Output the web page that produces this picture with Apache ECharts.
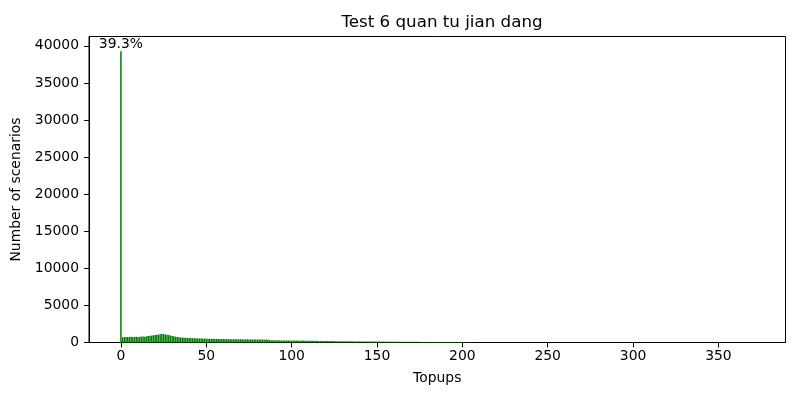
<!DOCTYPE html>
<html>
<head>
<meta charset="utf-8">
<script src="https://cdn.jsdelivr.net/npm/echarts@6/dist/echarts.min.js"></script>
<style>html,body{margin:0;padding:0;background:#fff}#c{width:800px;height:400px}</style>
</head>
<body>
<div id="c"></div>
<script>
const titleText = 'Test 6 quan tu jian dang';
const xName = 'Topups';
const yName = 'Number of scenarios';
const xTicks = [0, 50, 100, 150, 200, 250, 300, 350];
const peakLabel = '39.3%';
// counts for topups 0..370
const counts0to50 = [39276,
  700, 735, 750, 725, 745, 765, 735, 760, 775, 745,
  770, 790, 805, 780, 830, 875, 910, 930, 980, 1010,
  1035, 1070, 1100, 1130, 1150, 1080, 1035, 1000, 945, 875,
  830, 780, 750, 715, 690, 665, 655, 645, 630, 620,
  600, 585, 575, 565, 550, 540, 530, 540, 525, 520];
const counts51to100 = [
  505, 500, 495, 490, 485, 495, 475, 470, 465, 470,
  460, 455, 450, 455, 445, 435, 445, 430, 425, 435,
  425, 420, 415, 425, 410, 415, 400, 410, 395, 400,
  395, 390, 400, 385, 390, 380, 370, 320, 300, 290,
  280, 290, 275, 280, 270, 275, 265, 270, 262, 267];
const counts101to150 = [
  260, 255, 265, 250, 248, 253, 245, 242, 248, 236,
  230, 236, 228, 224, 230, 218, 220, 213, 216, 207,
  205, 200, 196, 198, 190, 184, 178, 172, 170, 167,
  161, 159, 163, 155, 152, 156, 150, 147, 152, 144,
  140, 144, 138, 136, 140, 132, 129, 133, 127, 124];
const counts151to210 = [
  129, 121, 124, 117, 120, 115, 113, 117, 110, 108,
  112, 106, 104, 108, 101, 99, 104, 97, 94, 99,
  92, 90, 94, 87, 85, 90, 83, 80, 85, 78,
  76, 80, 74, 71, 76, 69, 67, 71, 64, 62,
  67, 60, 58, 62, 55, 53, 58, 51, 48, 53,
  44, 39, 35, 30, 25, 21, 16, 12, 8, 6];
const counts211to370 = [
  4, 5, 3, 4, 3, 2, 3, 2, 2, 3, 2, 1, 2, 2, 1, 2, 1, 1, 2, 1,
  1, 1, 2, 1, 1, 0, 1, 1, 0, 1, 1, 0, 1, 0, 1, 0, 0, 1, 0, 1,
  0, 1, 0, 0, 1, 0, 0, 1, 0, 0, 1, 0, 0, 0, 1, 0, 0, 1, 0, 0,
  0, 1, 0, 0, 0, 0, 1, 0, 0, 0, 1, 0, 0, 0, 0, 0, 1, 0, 0, 0,
  0, 0, 0, 1, 0, 0, 0, 0, 0, 0, 1, 0, 0, 0, 0, 0, 0, 0, 1, 0,
  0, 0, 0, 0, 0, 0, 0, 1, 0, 0, 0, 0, 0, 0, 0, 0, 0, 1, 0, 0,
  0, 0, 0, 0, 0, 0, 0, 0, 0, 1, 0, 0, 0, 0, 0, 0, 0, 0, 0, 0,
  0, 0, 1, 0, 0, 0, 0, 0, 0, 0, 0, 0, 0, 0, 0, 0, 0, 0, 0, 1];

const counts = [].concat(counts0to50, counts51to100, counts101to150, counts151to210, counts211to370);
const data = counts.map((v, i) => {
  const item = { value: [i, v] };
  if (i === 0) {
    item.label = { show: true, position: 'top', distance: 0, formatter: peakLabel,
      color: '#000', fontSize: 13.9, fontFamily: 'DejaVu Sans' };
  }
  return item;
});

const font = 'DejaVu Sans';
const chart = echarts.init(document.getElementById('c'), null, { renderer: 'canvas' });
chart.setOption({
  animation: false,
  backgroundColor: '#fff',
  title: {
    text: titleText, left: 437, top: 9, textAlign: 'center',
    textStyle: { fontFamily: font, fontSize: 16.7, fontWeight: 'normal', color: '#000' }
  },
  grid: { left: 89, right: 14.5, top: 36.5, bottom: 57.5, show: true, borderColor: '#000', borderWidth: 1, backgroundColor: 'transparent' },
  xAxis: {
    type: 'value', min: -18.7, max: 389.3,
    name: xName, nameLocation: 'middle', nameGap: 29,
    nameTextStyle: { fontFamily: font, fontSize: 13.9, color: '#000' },
    axisLine: { show: true, onZero: false, lineStyle: { color: '#000', width: 1 } },
    axisTick: { show: true, length: 4.9, lineStyle: { color: '#000' }, customValues: xTicks },
    axisLabel: { fontFamily: font, fontSize: 13.9, color: '#000', margin: 7, customValues: xTicks },
    splitLine: { show: false }
  },
  yAxis: {
    type: 'value', min: 0, max: 41264, interval: 5000,
    name: yName, nameLocation: 'middle', nameGap: 66,
    nameTextStyle: { fontFamily: font, fontSize: 13.9, color: '#000' },
    axisLine: { show: true, onZero: false, lineStyle: { color: '#000', width: 1 } },
    axisTick: { show: true, inside: false, length: 4.9, lineStyle: { color: '#000' } },
    axisLabel: { fontFamily: font, fontSize: 13.9, color: '#000', margin: 10, showMaxLabel: false,
      formatter: v => String(v) },
    splitLine: { show: false }
  },
  series: [{
    type: 'bar', data: data, barWidth: 1.5,
    itemStyle: { color: '#008000' }
  }]
});
</script>
</body>
</html>
